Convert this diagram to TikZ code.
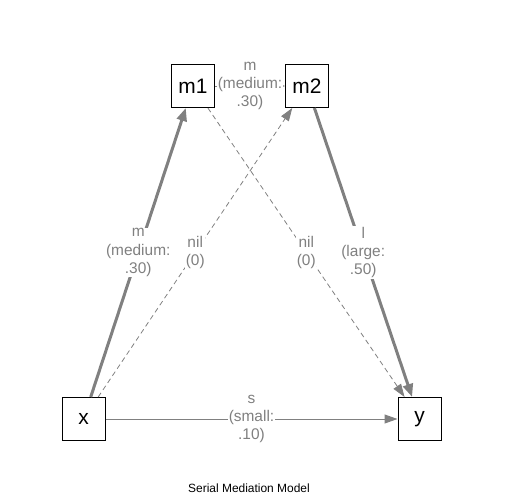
\documentclass[tikz,border=0pt]{standalone}
\usepackage{fontspec}
\setmainfont{Liberation Sans}
\usetikzlibrary{arrows.meta}
\definecolor{edgegray}{HTML}{808080}
\begin{document}
\begin{tikzpicture}[x=1bp,y=-1bp,
 var/.style={draw=black,line width=1bp,minimum width=43bp,minimum height=43bp,inner sep=0pt,font=\fontsize{21}{25}\selectfont},
 thickedge/.style={draw=edgegray,line width=3bp,-{Triangle[length=13bp,width=10bp]}},
 thinedge/.style={draw=edgegray,line width=1bp,-{Triangle[length=13bp,width=9bp]}},
 hairedge/.style={draw=edgegray,line width=0.4bp,-{Triangle[length=6bp,width=4bp]}},
 dashedge/.style={draw=edgegray,line width=0.8bp,dash pattern=on 5bp off 3.5bp,-{Triangle[length=13bp,width=9bp]}},
 elabel/.style={fill=white,text=edgegray,align=center,inner sep=0.5bp,font=\fontsize{15.5}{18.5}\selectfont}]
\useasboundingbox (0,0) rectangle (504,504);
\node[var] (x) at (83.5,419) {x};
\node[var] (y) at (419.5,419) {y};
\node[var] (m1) at (193,86) {m1};
\node[var] (m2) at (307,86) {m2};
\draw[thickedge] (x) -- node[elabel]{m\\(medium:\\.30)} (m1);
\draw[dashedge] (x) -- node[elabel]{nil\\(0)} (m2);
\draw[dashedge] (m1) -- node[elabel]{nil\\(0)} (y);
\draw[thickedge] (m2) -- node[elabel]{l\\(large:\\.50)} (y);
\draw[thinedge] (x) -- node[elabel]{s\\(small:\\.10)} (y);
\draw[hairedge] (m1) -- node[elabel]{m\\(medium:\\.30)} (m2);
\node[font=\fontsize{12}{14}\selectfont] (title) at (249,488) {Serial Mediation Model};
\end{tikzpicture}
\end{document}
